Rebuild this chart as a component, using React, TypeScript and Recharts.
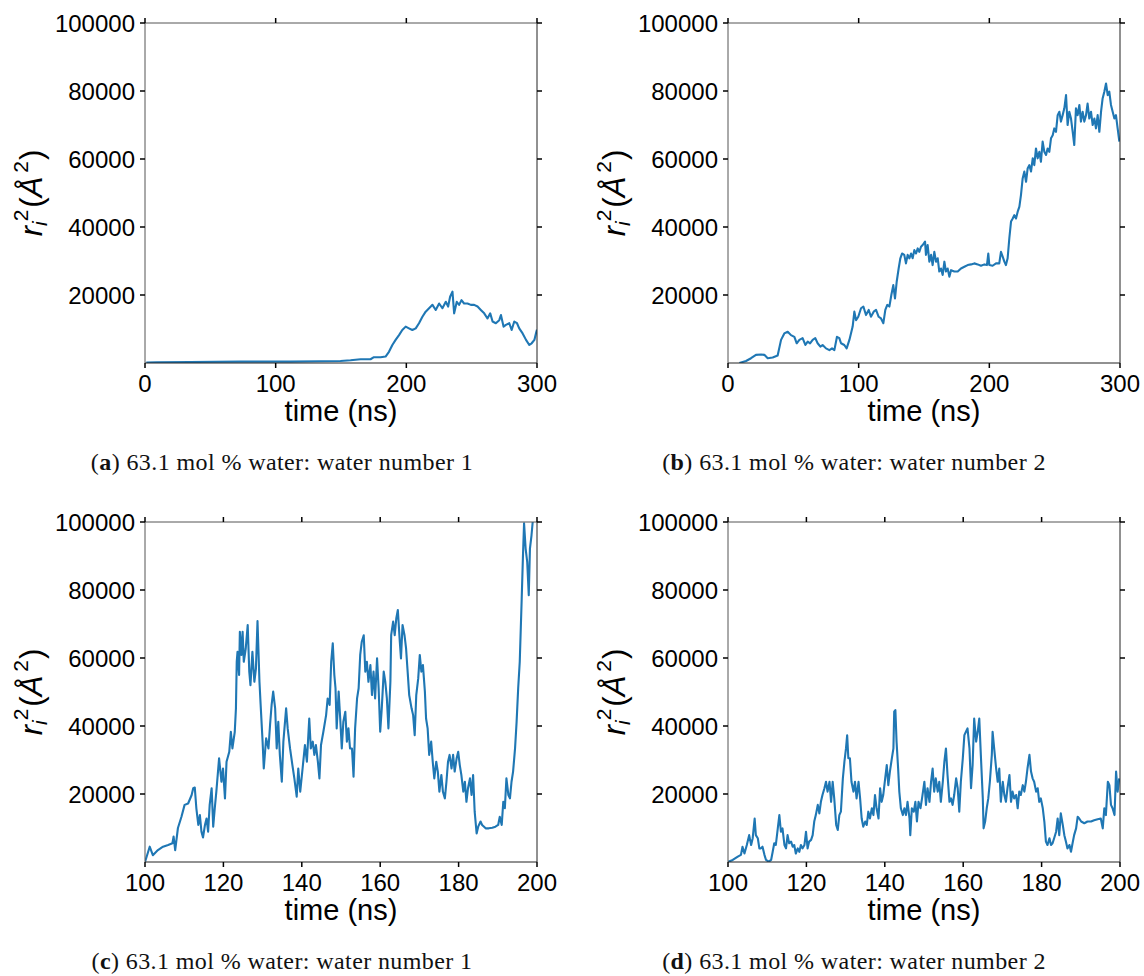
import { LineChart, Line, XAxis, YAxis, Label } from 'recharts';

// water number 1, full 0-300 ns run
const aTime = [1, 9, 34.5, 72.9, 111.3, 134.3, 149.6, 157.3, 165, 172.6, 175.2, 180.3, 184.1, 186.7, 189.3, 191.8, 194.4, 196.9, 199.5, 202, 204.6, 207.2, 209.7, 212.3, 214.8, 217.4, 220, 222.5, 225.1, 227.6, 230.2, 232, 233.5, 235.3, 236.6, 238.6, 240.4, 242.2, 244.2, 246.8, 249.4, 251.9, 254.5, 257, 259.6, 262.1, 264.2, 266, 268.5, 271.1, 272.4, 274.4, 276.2, 278.8, 280.6, 282.6, 284.7, 286.4, 289, 291.6, 294.1, 295.9, 298, 299.5, 300];
const aR2 = [100, 200, 300, 400, 400, 500, 600, 800, 1100, 1100, 1700, 1700, 1900, 3300, 5300, 6800, 8200, 9700, 10700, 10200, 9700, 10200, 11700, 13600, 15100, 16100, 17100, 15600, 17500, 16100, 18000, 16600, 19500, 21000, 14600, 18000, 17100, 18500, 17500, 17500, 17100, 17100, 16600, 15600, 14600, 13100, 14600, 12200, 11700, 12600, 14100, 10700, 11200, 11700, 9700, 12200, 11700, 10200, 8700, 6800, 5300, 5800, 6800, 9200, 9800];

// water number 2, full 0-300 ns run
const bTime = [8.7, 13.8, 17.6, 21.4, 25.3, 27.8, 30.4, 34.2, 38, 40.6, 43.1, 45.7, 48.2, 50.8, 52.6, 54.6, 57.1, 59.2, 61, 62.8, 64.8, 66.8, 68.6, 70.7, 72.4, 75, 77.6, 79.6, 81.4, 83.4, 85.2, 86.5, 89, 90.8, 92.9, 95.4, 96.7, 98, 99.7, 101.8, 103.6, 105.6, 107.7, 109.4, 111.5, 113.3, 115.3, 117.1, 118.9, 120.4, 121.9, 123.5, 125, 126.5, 127.8, 129.1, 130.6, 131.9, 133.2, 134.9, 136.2, 137.5, 138.8, 140.1, 141.3, 142.6, 143.9, 145.2, 146.4, 147.7, 149, 150.8, 151.5, 152.8, 154.1, 155.4, 156.6, 157.9, 159.2, 160.5, 161.7, 163, 164.3, 165.6, 166.8, 168.1, 169.4, 170.7, 173.2, 175.8, 178.3, 180.9, 183.4, 186, 188.5, 191.1, 193.6, 196.2, 198.2, 199.2, 200, 202.5, 205.1, 207.6, 208.9, 210.2, 211.5, 212.7, 214, 215.3, 216.6, 217.9, 219.1, 220.4, 221.7, 223, 224.2, 225.5, 226.8, 228.1, 229.3, 230.6, 231.9, 233.2, 234.4, 235.7, 237, 238.3, 239.5, 240.8, 242.1, 243.4, 244.6, 245.9, 247.2, 248.5, 249.7, 251, 252.3, 253.6, 254.8, 256.1, 257.4, 258.7, 259.9, 261.2, 262.5, 263.8, 265, 266.3, 267.6, 268.9, 270.1, 271.4, 272.7, 274, 275.2, 276.5, 277.8, 279.1, 280.4, 281.6, 282.9, 284.2, 285.5, 286.7, 288, 289.3, 290.6, 291.8, 293.1, 294.4, 295.7, 296.9, 298.2, 299.5];
const bR2 = [0, 600, 1400, 2400, 2500, 2400, 1400, 1600, 2200, 6800, 8700, 9200, 8200, 7700, 5800, 6800, 7300, 5300, 6300, 5800, 6800, 7300, 5800, 4800, 5300, 4300, 3800, 4300, 3800, 7700, 7300, 5800, 5300, 4300, 6800, 10700, 15100, 12600, 13600, 16100, 16600, 14100, 15600, 13600, 15100, 15600, 13600, 13100, 11700, 15600, 17100, 16600, 20000, 22900, 19000, 23900, 27800, 30800, 32200, 31800, 29300, 31800, 30800, 32200, 30800, 33200, 32200, 33700, 32700, 34200, 34700, 35700, 31800, 34700, 29800, 31800, 28800, 32700, 29800, 30800, 26900, 27800, 25900, 29800, 26900, 27800, 25400, 27300, 26900, 26900, 27800, 28300, 28800, 29000, 29300, 29000, 28600, 29000, 28800, 32200, 28800, 28600, 29300, 29300, 32700, 31300, 29800, 28800, 30800, 36700, 41600, 42500, 43500, 42500, 44500, 46000, 49400, 54300, 56300, 53300, 57200, 58200, 56300, 60200, 58200, 63100, 60200, 62100, 59200, 65100, 62100, 61200, 63100, 62100, 66100, 67000, 69000, 68000, 72900, 73900, 71000, 72900, 74900, 78800, 70000, 73900, 71900, 68000, 64100, 74900, 72900, 75900, 71000, 73900, 71000, 72900, 76300, 71900, 73900, 70000, 71900, 69000, 72900, 68000, 73900, 77800, 79800, 82200, 78800, 79800, 75900, 73900, 71900, 72900, 69000, 65100];

// water number 1, zoom on 100-200 ns
const cTime = [100, 101.2, 102, 103.3, 104.6, 105.9, 107, 107.3, 107.7, 108.4, 109.3, 110.1, 111, 111.9, 112.3, 112.7, 113.1, 113.6, 114, 114.4, 114.8, 115.3, 115.7, 116.1, 116.5, 117, 117.4, 117.8, 118.2, 118.9, 119.5, 119.9, 120.4, 120.8, 121.5, 121.9, 122.3, 122.9, 123.2, 123.4, 123.6, 124, 124.2, 124.6, 124.9, 125.2, 125.7, 126.2, 126.6, 126.9, 127.4, 127.9, 128.3, 128.7, 129.2, 129.5, 130, 130.3, 130.9, 131.5, 131.9, 132.3, 132.7, 133.2, 133.6, 134, 134.4, 134.9, 135.3, 136, 136.4, 137, 137.6, 138.1, 138.7, 139.1, 139.6, 140.2, 140.8, 141.3, 141.9, 142.3, 142.8, 143.2, 143.6, 144.1, 144.5, 144.9, 145.5, 146.2, 146.6, 147.1, 147.5, 147.9, 148.3, 148.6, 148.9, 149.4, 149.8, 150.2, 150.6, 151.1, 151.5, 151.9, 152.3, 152.8, 153.2, 153.6, 154.1, 154.5, 154.9, 155.3, 155.8, 156.2, 156.6, 157, 157.5, 157.9, 158.3, 158.7, 159.2, 159.6, 160, 160.4, 160.9, 161.3, 161.7, 162.1, 162.6, 162.8, 163.3, 163.7, 164.1, 164.5, 165, 165.3, 165.7, 166.2, 166.6, 167, 167.4, 168, 168.4, 168.8, 169.2, 169.7, 170.1, 170.5, 170.9, 171.4, 171.7, 172.1, 172.5, 173, 173.4, 173.8, 174.3, 174.7, 175.1, 175.6, 176, 176.5, 176.9, 177.3, 177.7, 178.2, 178.6, 179, 179.5, 179.9, 180.3, 180.7, 181.2, 181.6, 182, 182.4, 182.9, 183.3, 183.7, 184.1, 184.6, 185, 185.6, 186, 186.9, 187.7, 188.6, 189.4, 190.1, 190.5, 191, 191.4, 191.8, 192.2, 192.7, 193.1, 193.5, 193.9, 194.4, 194.8, 195.2, 195.6, 196.1, 196.4, 196.7, 197.1, 197.5, 197.9, 198.2, 198.6, 198.9, 199.3];
const cR2 = [0, 4500, 2000, 3500, 4500, 5000, 5500, 7500, 3500, 10000, 13300, 16800, 17200, 19700, 21700, 21900, 15800, 10900, 13800, 8900, 7200, 10900, 12800, 8900, 16800, 21700, 10400, 15800, 20700, 30500, 23600, 27500, 18700, 29500, 32400, 38300, 33400, 38300, 45200, 58900, 61800, 55000, 67700, 60900, 67700, 58900, 62800, 69700, 56000, 52000, 61800, 53000, 56900, 70900, 53000, 46200, 35400, 27500, 36400, 33400, 40300, 46200, 50100, 45200, 33400, 41200, 31500, 23600, 35400, 45200, 39300, 33400, 28500, 24600, 19200, 27500, 20700, 27500, 34400, 29500, 42200, 33400, 35400, 31500, 34400, 29500, 24600, 34400, 38300, 43200, 48100, 46200, 58900, 64300, 55000, 51100, 39300, 50100, 42200, 33400, 41300, 44200, 35400, 39300, 33400, 33400, 25100, 39300, 48100, 51100, 60900, 64800, 66700, 56000, 58900, 53000, 57900, 49100, 56000, 48100, 59900, 51100, 38300, 45200, 56000, 53000, 48100, 39300, 53000, 66700, 70700, 66700, 71600, 74100, 64800, 59900, 69700, 66700, 62800, 56000, 49100, 45200, 43200, 37300, 49100, 54000, 60900, 56000, 57900, 50100, 42200, 39300, 31500, 35400, 29500, 24600, 29500, 26600, 20700, 25600, 20700, 18700, 23600, 29500, 31500, 27500, 31500, 26600, 30500, 32400, 28500, 25600, 20700, 23600, 17700, 21700, 24600, 19700, 25600, 14800, 8400, 10400, 11900, 10900, 9900, 9900, 10100, 10400, 10900, 13300, 10900, 17700, 15800, 24600, 19700, 18700, 23600, 26600, 33400, 41300, 51100, 58900, 77500, 89300, 99600, 92200, 88300, 78500, 92200, 96100, 100000, 101000];

// water number 2, zoom on 100-200 ns
const dTime = [100, 101.2, 102.5, 103.3, 103.7, 104.2, 104.8, 105.4, 105.9, 106.3, 106.8, 107.1, 107.6, 108, 108.4, 108.8, 109.3, 109.7, 110.4, 111, 111.4, 111.8, 112.2, 112.7, 113.1, 113.5, 113.9, 114.4, 114.8, 115.2, 115.6, 116.1, 116.5, 116.9, 117.3, 117.8, 118.2, 118.6, 119, 119.5, 119.9, 120.3, 120.7, 121.2, 121.6, 122, 122.4, 122.9, 123.3, 123.7, 124.1, 124.6, 125, 125.4, 125.9, 126.3, 126.7, 127.1, 127.6, 128, 128.4, 128.8, 129.3, 129.7, 130.1, 130.4, 130.7, 131.1, 131.5, 132, 132.4, 132.8, 133.3, 133.7, 134.1, 134.5, 135, 135.4, 135.8, 136.2, 136.7, 137.1, 137.5, 137.9, 138.4, 138.8, 139.2, 139.6, 140.1, 140.5, 140.9, 141.3, 141.8, 142.2, 142.4, 142.7, 143, 143.4, 143.7, 144.1, 144.6, 145, 145.4, 145.8, 146.3, 146.5, 146.9, 147.4, 147.8, 148.2, 148.6, 149.1, 149.5, 150.1, 150.5, 150.9, 151.4, 151.8, 152.2, 152.6, 153, 153.5, 153.9, 154.3, 154.8, 155.2, 155.6, 156, 156.5, 156.9, 157.3, 157.7, 158.2, 158.6, 159, 159.4, 159.9, 160.3, 160.7, 161.1, 161.6, 162, 162.4, 162.8, 163.3, 163.7, 164.1, 164.5, 165, 165.2, 165.6, 166, 166.4, 166.8, 167.3, 167.5, 167.9, 168.4, 168.8, 169.2, 169.6, 170.1, 170.5, 170.9, 171.3, 171.8, 172.2, 172.6, 173, 173.5, 173.9, 174.3, 174.7, 175.2, 175.6, 176, 176.4, 176.9, 177.3, 177.7, 178.1, 178.6, 179, 179.4, 179.8, 180.3, 180.7, 181.1, 181.5, 182, 182.4, 182.8, 183.2, 183.7, 184.1, 184.5, 184.9, 185.4, 185.8, 186.2, 186.6, 187.1, 187.5, 187.9, 188.3, 188.8, 189.2, 189.6, 190.1, 190.9, 191.7, 192.6, 193.4, 194.3, 195.1, 195.6, 196, 196.4, 196.9, 197.3, 197.7, 198.1, 198.6, 199, 199.4, 199.8];
const dR2 = [0, 600, 1600, 2100, 4500, 2500, 5000, 7900, 5000, 7000, 12800, 7900, 7000, 4000, 4000, 4500, 2100, 600, 100, 600, 3000, 5500, 5000, 9900, 13800, 8900, 9900, 5000, 4000, 7900, 5500, 6000, 4500, 5000, 2500, 4000, 3000, 5000, 4000, 5000, 8900, 4000, 6000, 6500, 7900, 11900, 13800, 16800, 14300, 17700, 19700, 21700, 23600, 20700, 23600, 17700, 23600, 18700, 10900, 9400, 13800, 14800, 24600, 29500, 33400, 37300, 30500, 30500, 23600, 20700, 23600, 18700, 23600, 18700, 12800, 10400, 11900, 10900, 14800, 12800, 15800, 13800, 19700, 15800, 12800, 21700, 17700, 19700, 24600, 28500, 22600, 26600, 30500, 33400, 44200, 44700, 35400, 27500, 20700, 15800, 13800, 15800, 13800, 17700, 12800, 7900, 15800, 14800, 17700, 11900, 17700, 15800, 18700, 23600, 16800, 21700, 17700, 23600, 27500, 20700, 24600, 20700, 23600, 17700, 23600, 29500, 33400, 25600, 17700, 18700, 16800, 19700, 24600, 21700, 14800, 23600, 30500, 37300, 38300, 39300, 33400, 21700, 28500, 42200, 35400, 38300, 42200, 31500, 18700, 9900, 11900, 15800, 18700, 23600, 31500, 38300, 33400, 27500, 23600, 27500, 17700, 23600, 19700, 17700, 21700, 25600, 17700, 20700, 18700, 19700, 15800, 20700, 19700, 22600, 20700, 23600, 27500, 31500, 26600, 24600, 23600, 20700, 21700, 17700, 18700, 15800, 11900, 6000, 5000, 7000, 5000, 5500, 7000, 8900, 12800, 7900, 14300, 10900, 7900, 6000, 4000, 5000, 3000, 5500, 7900, 9900, 13300, 12800, 11900, 11400, 11900, 11900, 12300, 12600, 12800, 9900, 15800, 13800, 23600, 22600, 16800, 15800, 13800, 26600, 20700, 24600];

const longTicks = [0, 100, 200, 300];
const shortTicks = [100, 120, 140, 160, 180, 200];
const yTicks = [20000, 40000, 60000, 80000, 100000];

const SANS = '"Liberation Sans", Arial, sans-serif';
const SERIF = '"Liberation Serif", "Times New Roman", serif';
const BLUE = '#1f77b4';

const rows = (time: number[], r2: number[]) => time.map((t, i) => ({ t, r2: r2[i] }));
const blank = () => '';

// r_i^2 (Å^2), rotated and centred on the plot height
const YTitle = (props: any) => {
  const vb = props.viewBox;
  const cx = vb.x - 4;
  const cy = vb.y + vb.height / 2;
  return (
    <text
      x={cx}
      y={cy}
      transform={`rotate(-90 ${cx} ${cy})`}
      textAnchor="middle"
      dominantBaseline="central"
      fontFamily={SANS}
      fontSize={31}
      fill="#000"
    >
      <tspan fontStyle="italic">r</tspan>
      <tspan fontStyle="italic" fontSize={21} dy={8}>i</tspan>
      <tspan fontSize={21} dy={-19}>2</tspan>
      <tspan dy={11} dx={2}>(</tspan>
      <tspan fontStyle="italic">Å</tspan>
      <tspan fontSize={21} dy={-11} dx={4}>2</tspan>
      <tspan dy={11} dx={1}>)</tspan>
    </text>
  );
};

type PanelProps = {
  data: { t: number; r2: number }[];
  domain: [number, number];
  ticks: number[];
  left: number;
  top: number;
};

const Panel = ({ data, domain, ticks, left, top }: PanelProps) => (
  <div style={{ position: 'absolute', left, top }}>
    <LineChart
      width={561}
      height={440}
      data={data}
      margin={{ top: 15, right: 16, bottom: 17, left: 35 }}
    >
      <XAxis
        xAxisId="bottom"
        dataKey="t"
        type="number"
        domain={domain}
        ticks={ticks}
        allowDataOverflow
        height={60}
        tickSize={5}
        tickMargin={7}
        axisLine={{ stroke: '#222' }}
        tickLine={{ stroke: '#000', strokeWidth: 1.5 }}
        tick={{ fill: '#000', fontSize: 24, fontFamily: SANS }}
      >
        <Label
          value="time (ns)"
          position="insideBottom"
          offset={2}
          style={{ fill: '#000', fontSize: 29, fontFamily: SANS }}
        />
      </XAxis>
      <XAxis
        xAxisId="top"
        orientation="top"
        dataKey="t"
        type="number"
        domain={domain}
        ticks={ticks}
        allowDataOverflow
        height={8}
        tickSize={5}
        tickFormatter={blank}
        axisLine={{ stroke: '#555' }}
        tickLine={{ stroke: '#000', strokeWidth: 1.5 }}
      />
      <YAxis
        yAxisId="left"
        type="number"
        domain={[0, 100000]}
        ticks={yTicks}
        allowDataOverflow
        width={110}
        tickSize={5}
        tickMargin={5}
        axisLine={{ stroke: '#555' }}
        tickLine={{ stroke: '#000', strokeWidth: 1.5 }}
        tick={{ fill: '#000', fontSize: 24, fontFamily: SANS }}
      >
        <Label content={YTitle} />
      </YAxis>
      <YAxis
        yAxisId="right"
        orientation="right"
        type="number"
        domain={[0, 100000]}
        ticks={yTicks}
        allowDataOverflow
        width={8}
        tickSize={5}
        tickFormatter={blank}
        axisLine={{ stroke: '#222' }}
        tickLine={{ stroke: '#000', strokeWidth: 1.5 }}
      />
      <Line
        xAxisId="bottom"
        yAxisId="left"
        type="linear"
        dataKey="r2"
        stroke={BLUE}
        strokeWidth={2.1}
        strokeLinejoin="round"
        dot={false}
        activeDot={false}
        isAnimationActive={false}
      />
    </LineChart>
  </div>
);

const Caption = ({ tag, text, center, top }: { tag: string; text: string; center: number; top: number }) => (
  <div
    style={{
      position: 'absolute',
      left: center - 280,
      top,
      width: 560,
      textAlign: 'center',
      fontFamily: SERIF,
      fontSize: 24,
      letterSpacing: 0.4,
      color: '#111',
      whiteSpace: 'nowrap',
    }}
  >
    (<b>{tag}</b>) {text}
  </div>
);

export default function App() {
  const caption = '63.1 mol % water: water number';
  return (
    <div style={{ position: 'absolute', left: 0, top: 0, width: 1144, height: 976, background: '#fff' }}>
      <Panel data={rows(aTime, aR2)} domain={[0, 300]} ticks={longTicks} left={0} top={0} />
      <Panel data={rows(bTime, bR2)} domain={[0, 300]} ticks={longTicks} left={583} top={0} />
      <Panel data={rows(cTime, cR2)} domain={[100, 200]} ticks={shortTicks} left={0} top={499} />
      <Panel data={rows(dTime, dR2)} domain={[100, 200]} ticks={shortTicks} left={583} top={499} />
      <Caption tag="a" text={`${caption} 1`} center={282} top={449} />
      <Caption tag="b" text={`${caption} 2`} center={854} top={449} />
      <Caption tag="c" text={`${caption} 1`} center={282} top={948} />
      <Caption tag="d" text={`${caption} 2`} center={854} top={948} />
    </div>
  );
}
